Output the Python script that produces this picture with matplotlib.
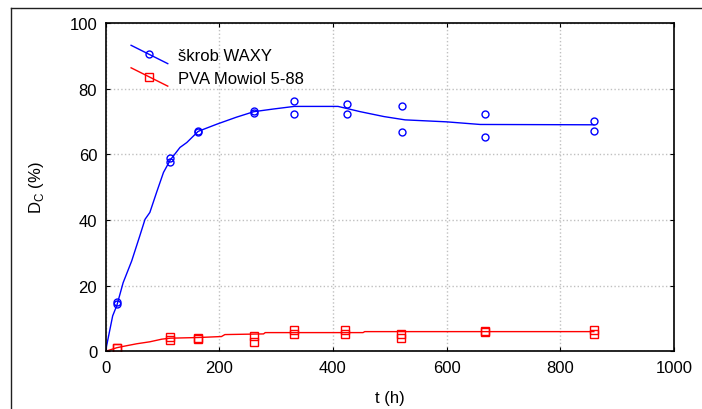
import numpy as np
import matplotlib.pyplot as plt
from matplotlib.lines import Line2D
from matplotlib.legend_handler import HandlerLine2D

plt.rcParams['font.family'] = ['Liberation Sans', 'DejaVu Sans']
plt.rcParams['mathtext.fontset'] = 'custom'
plt.rcParams['mathtext.rm'] = 'Liberation Sans'

# measured points (two parallel samples per time)
t_waxy = [20, 20, 114, 114, 163, 163, 261, 261, 332, 332, 424, 424, 521, 521, 667, 667, 859, 859]
d_waxy = [14.3, 15.0, 59.0, 57.6, 67.2, 66.9, 73.3, 72.5, 76.3, 72.3, 75.4, 72.3, 74.8, 66.8, 72.3, 65.2, 70.2, 67.2]

t_pva = [20, 20, 114, 114, 163, 163, 261, 261, 332, 332, 422, 422, 520, 520, 667, 667, 859, 859]
d_pva = [1.1, 1.0, 4.4, 3.4, 4.2, 3.8, 4.7, 2.8, 6.4, 5.4, 6.4, 5.4, 5.4, 4.2, 6.1, 5.9, 6.5, 5.3]

# fitted curves
t_waxy_fit = [0, 12.6, 20, 31, 46, 60, 69.5, 78, 90, 102, 114, 131, 143, 163, 196, 230, 261,
              295, 332, 409, 448, 490, 527, 600, 659, 859]
d_waxy_fit = [0, 10.8, 14.0, 20.9, 27.5, 35.0, 40.2, 42.3, 48.5, 54.5, 58.3, 62.1, 63.6, 67.0,
              69.2, 71.3, 73.0, 73.8, 74.6, 74.6, 73.0, 71.5, 70.5, 69.9, 69.1, 69.0]

t_pva_fit = [0, 20, 34, 55, 78, 99, 114, 163, 204, 210, 278, 281, 453, 456, 859]
d_pva_fit = [0, 1.1, 1.6, 2.3, 2.9, 3.7, 4.0, 4.2, 4.5, 5.1, 5.3, 5.7, 5.7, 6.0, 6.0]


# legend handle drawn as a slanted line with the marker in the middle
class SlantHandler(HandlerLine2D):
    def create_artists(self, legend, orig_handle, xdescent, ydescent,
                       width, height, fontsize, trans):
        ymid = height / 2 - ydescent
        dy = 0.55 * fontsize
        line = Line2D([-xdescent, width - xdescent], [ymid + dy, ymid - dy])
        self.update_prop(line, orig_handle, legend)
        line.set_marker('')
        mark = Line2D([width / 2 - xdescent], [ymid])
        self.update_prop(mark, orig_handle, legend)
        mark.set_linestyle('none')
        line.set_transform(trans)
        mark.set_transform(trans)
        return [line, mark]


fig = plt.figure(figsize=(7.02, 4.10), dpi=100)
ax = fig.add_axes([0.1503, 0.1407, 0.8098, 0.8007])

ax.plot(t_waxy_fit, d_waxy_fit, color='#0000ff', lw=1.0)
ax.plot(t_waxy, d_waxy, 'o', mfc='none', mec='#0000ff', ms=5, mew=1.0)
ax.plot(t_pva_fit, d_pva_fit, color='#ff0000', lw=1.0)
ax.plot(t_pva, d_pva, 's', mfc='none', mec='#ff0000', ms=5.5, mew=1.0)

h1 = Line2D([], [], color='#0000ff', lw=1.0, marker='o', mfc='none', mec='#0000ff', ms=5)
h2 = Line2D([], [], color='#ff0000', lw=1.0, marker='s', mfc='none', mec='#ff0000', ms=5.5)
ax.legend([h1, h2], ['škrob WAXY', 'PVA Mowiol 5-88'], loc='upper left',
          bbox_to_anchor=(0.045, 0.923), borderaxespad=0, borderpad=0, frameon=False,
          handlelength=2.2, handletextpad=0.6, labelspacing=0.45, fontsize=12,
          handler_map={Line2D: SlantHandler()})

ax.set_xlim(0, 1000)
ax.set_ylim(0, 100)
ax.set_xticks(np.arange(0, 1001, 200))
ax.set_yticks(np.arange(0, 101, 20))
ax.grid(True, color='#c0c0c0', linestyle=':', linewidth=1.0)
ax.tick_params(direction='in', length=3, top=True, right=True, labelsize=12, colors='black')
ax.tick_params(axis='x', pad=6.5)
ax.tick_params(axis='y', pad=6)
for s in ax.spines.values():
    s.set_linewidth(1.2)

ax.set_xlabel('t (h)', fontsize=12)
ax.set_ylabel(r'D$_\mathregular{C}$ (%)', fontsize=12)
ax.xaxis.set_label_coords(0.5, -0.117)
ax.yaxis.set_label_coords(-0.105, 0.5)

# outer frame of the original picture
fig.add_artist(Line2D([11 / 702, 11 / 702], [0, 1 - 9 / 410], color='#202020', lw=1.0,
                      transform=fig.transFigure))
fig.add_artist(Line2D([11 / 702, 1], [1 - 9 / 410, 1 - 9 / 410], color='#202020', lw=1.0,
                      transform=fig.transFigure))

fig.savefig('out.png', dpi=100)
